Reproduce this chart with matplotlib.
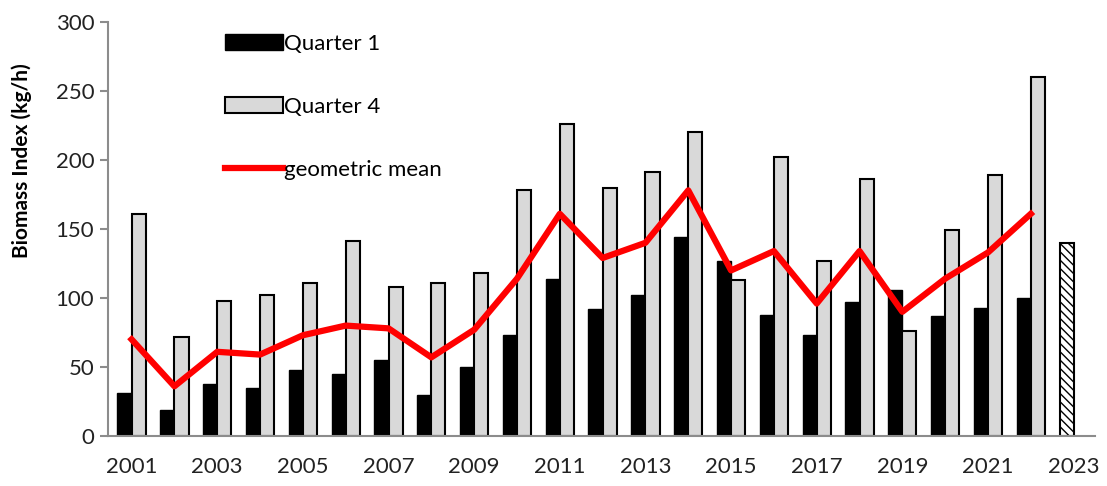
import matplotlib.pyplot as plt
import numpy as np
from matplotlib.patches import Patch
from matplotlib.lines import Line2D

plt.rcParams['font.family'] = ['Lato', 'DejaVu Sans']

years = list(range(2001, 2023))
q1 = [31, 19, 38, 35, 48, 45, 55, 30, 50, 73, 114, 92, 102, 144, 127, 88, 73, 97, 106, 87, 93, 100]
q4 = [161, 72, 98, 102, 111, 141, 108, 111, 118, 178, 226, 180, 191, 220, 113, 202, 127, 186, 76, 149, 189, 260]
geo_mean = [70, 36, 61, 59, 73, 80, 78, 57, 77, 114, 161, 129, 140, 178, 120, 134, 96, 134, 90, 114, 133, 161]
q1_2023 = 140
tick_years = list(range(2001, 2024, 2))

fig = plt.figure(figsize=(11.07, 4.86), dpi=100)
ax = fig.add_axes([0.0976, 0.1029, 0.8916, 0.8518])

x = np.array(years)
w = 0.33
ax.bar(x - w / 2, q1, width=w, color='black', edgecolor='black', linewidth=1.0, zorder=2)
ax.bar(x + w / 2, q4, width=w, color='#d9d9d9', edgecolor='black', linewidth=1.5, zorder=2)
ax.bar([2023 - w / 2], [q1_2023], width=w, color='white', edgecolor='black',
       linewidth=1.5, hatch='\\\\\\\\', zorder=2)
ax.plot(x, geo_mean, color='#ff0000', linewidth=4.5, zorder=3)

ax.set_xlim(2000.45, 2023.5)
ax.set_ylim(0, 300)
ax.set_yticks(range(0, 301, 50))
ax.set_xticks(tick_years)
ax.tick_params(axis='x', length=0, labelsize=16, pad=15, colors='#222222')
ax.tick_params(axis='y', length=6, width=1.5, color='#8c8c8c', labelsize=16,
               pad=4, labelcolor='#222222')
for s in ['top', 'right']:
    ax.spines[s].set_visible(False)
for s in ['left', 'bottom']:
    ax.spines[s].set_color('#8c8c8c')
    ax.spines[s].set_linewidth(1.5)

ax.set_ylabel('Biomass Index (kg/h)', fontsize=15, fontweight='bold')
ax.yaxis.set_label_coords(-0.077, 0.665)

handles = [
    Patch(facecolor='black', edgecolor='black'),
    Patch(facecolor='#d9d9d9', edgecolor='black', linewidth=1.5),
    Line2D([0], [0], color='#ff0000', linewidth=4.5),
]
labels = ['Quarter 1', 'Quarter 4', 'geometric mean']
ax.legend(handles, labels, loc='upper left', bbox_to_anchor=(0.1185, 0.972),
          frameon=False, fontsize=16, handlelength=2.6, handleheight=0.7,
          handletextpad=0.05, labelspacing=1.95, borderpad=0, borderaxespad=0)

fig.savefig('out.png', dpi=100)
